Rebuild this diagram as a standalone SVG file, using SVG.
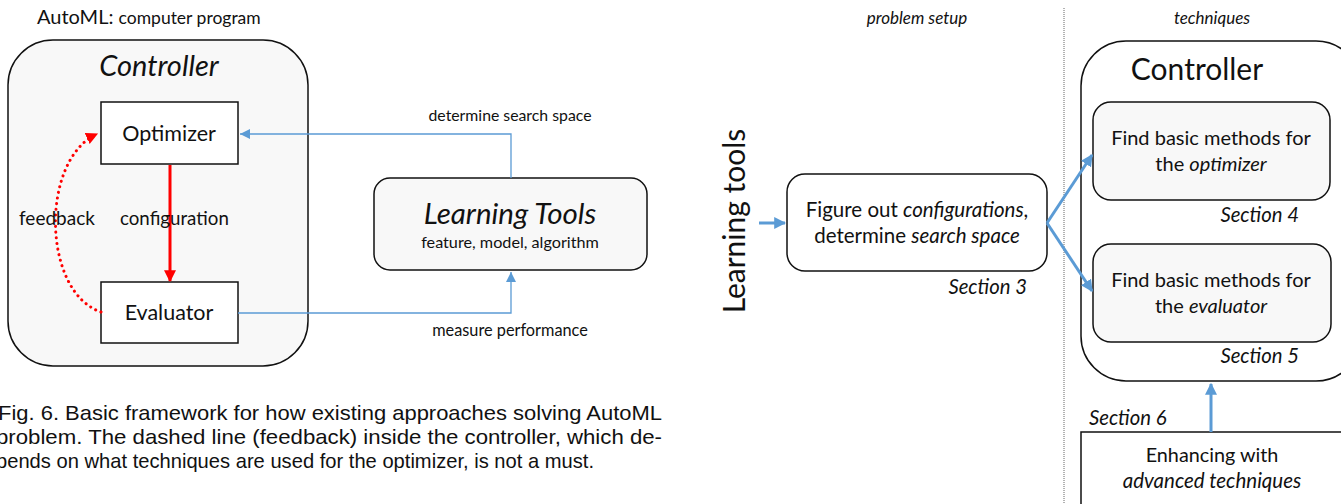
<svg xmlns="http://www.w3.org/2000/svg" width="1341" height="504" viewBox="0 0 1341 504">
<defs>
<style>
.t{font-family:Lato,"Open Sans","Liberation Sans",sans-serif;fill:#111;}
.i{font-style:italic;}
.m{text-anchor:middle;}
.e{text-anchor:end;}
.cap{font-family:"Liberation Sans",Arial,sans-serif;font-size:21px;fill:#111;}
.box{fill:#fff;stroke:#111;stroke-width:1.5;}
.gbox{fill:#f8f8f8;stroke:#111;stroke-width:1.5;}
.thin{fill:none;stroke:#5b9bd5;stroke-width:1.3;}
.thick{fill:none;stroke:#5b9bd5;stroke-width:3;}
</style>
<marker id="ab" viewBox="0 0 10 10" refX="10" refY="5" markerWidth="10" markerHeight="10" markerUnits="userSpaceOnUse" orient="auto"><path d="M0,0 L10,5 L0,10 z" fill="#5b9bd5"/></marker>
<marker id="abT" viewBox="0 0 10 10" refX="9" refY="5" markerWidth="4" markerHeight="4" orient="auto"><path d="M0,0 L10,5 L0,10 z" fill="#5b9bd5"/></marker>
<marker id="ar" viewBox="0 0 10 10" refX="9" refY="5" markerWidth="4" markerHeight="4" orient="auto"><path d="M0,0 L10,5 L0,10 z" fill="#ff0000"/></marker>
<marker id="arD" viewBox="0 0 10 10" refX="9" refY="5" markerWidth="12" markerHeight="12" markerUnits="userSpaceOnUse" orient="auto"><path d="M0,0 L10,5 L0,10 z" fill="#ff0000"/></marker>
</defs>

<!-- Left figure -->
<g id="title">
<text class="t" x="37" y="24" font-size="20">AutoML: <tspan font-size="17.5">computer program</tspan></text>
</g>
<g id="controller-left">
<rect class="gbox" x="8" y="40" width="300" height="326" rx="45"/>
<text class="t i m" x="159" y="76" font-size="29">Controller</text>
</g>
<g id="optimizer">
<rect class="box" x="101" y="102" width="137" height="62"/>
<text class="t m" x="169" y="141" font-size="21.5">Optimizer</text>
</g>
<g id="evaluator">
<rect class="box" x="101" y="282" width="137" height="61"/>
<text class="t m" x="169" y="320" font-size="21.5">Evaluator</text>
</g>
<g id="learning-tools">
<rect class="gbox" x="374" y="178" width="273" height="92" rx="16"/>
<text class="t i m" x="510" y="224" font-size="29.5">Learning Tools</text>
<text class="t m" x="510" y="248" font-size="16.2">feature, model, algorithm</text>
</g>

<g id="connectors-left">
<line x1="170" y1="165" x2="170" y2="281" stroke="#ff0000" stroke-width="3" marker-end="url(#ar)"/>
<path d="M101,312 C42,292 40,160 97,134" fill="none" stroke="#ff0000" stroke-width="3" stroke-dasharray="0.1 5.6" stroke-linecap="round" marker-end="url(#arD)"/>
<path class="thin" d="M511,178 L511,134 L240,134" marker-end="url(#ab)"/>
<path class="thin" d="M238,313 L511,313 L511,272" marker-end="url(#ab)"/>
<text class="t" x="120" y="225" font-size="18.7">configuration</text>
<text class="t" x="19" y="225" font-size="19">feedback</text>
<text class="t m" x="510" y="121" font-size="15.8">determine search space</text>
<text class="t m" x="510" y="336" font-size="16.3">measure performance</text>
</g>

<g id="caption">
<text class="cap" x="-2" y="420" textLength="664" lengthAdjust="spacingAndGlyphs">Fig. 6. Basic framework for how existing approaches solving AutoML</text>
<text class="cap" x="-4" y="444" textLength="666" lengthAdjust="spacingAndGlyphs">problem. The dashed line (feedback) inside the controller, which de-</text>
<text class="cap" x="-4" y="468" textLength="598" lengthAdjust="spacingAndGlyphs">pends on what techniques are used for the optimizer, is not a must.</text>
</g>

<!-- Right figure -->
<g id="headers">
<text class="t i m" x="917" y="24" font-size="17">problem setup</text>
<text class="t i m" x="1212" y="24" font-size="17">techniques</text>
<line x1="1064" y1="8" x2="1064" y2="504" stroke="#666" stroke-width="1" stroke-dasharray="1 1"/>
</g>
<g id="learning-tools-label">
<text class="t m" transform="translate(745,221) rotate(-90)" font-size="30">Learning tools</text>
</g>
<g id="figure-out">
<rect class="box" x="787" y="174" width="260" height="97" rx="18"/>
<text class="t m" x="917" y="217" font-size="20.5">Figure out <tspan class="i">configurations</tspan>,</text>
<text class="t m" x="917" y="243" font-size="20.5">determine <tspan class="i">search space</tspan></text>
<text class="t i e" x="1027" y="294" font-size="20.3">Section 3</text>
</g>
<g id="controller-right">
<rect class="box" x="1081" y="41" width="280" height="340" rx="45"/>
<text class="t m" x="1197" y="80" font-size="30">Controller</text>
</g>
<g id="opt-methods">
<rect class="gbox" x="1093" y="102" width="237" height="98" rx="18"/>
<text class="t m" x="1211" y="145" font-size="20">Find basic methods for</text>
<text class="t m" x="1211" y="171" font-size="20">the <tspan class="i">optimizer</tspan></text>
<text class="t i e" x="1299" y="222" font-size="20.3">Section 4</text>
</g>
<g id="eval-methods">
<rect class="gbox" x="1093" y="244" width="238" height="98" rx="18"/>
<text class="t m" x="1211" y="287" font-size="20">Find basic methods for</text>
<text class="t m" x="1211" y="313" font-size="20">the <tspan class="i">evaluator</tspan></text>
<text class="t i e" x="1299" y="363" font-size="20.3">Section 5</text>
</g>
<g id="enhancing">
<rect class="box" x="1081" y="432" width="280" height="90"/>
<text class="t m" x="1212" y="462" font-size="19.8">Enhancing with</text>
<text class="t i m" x="1212" y="488" font-size="20.5">advanced techniques</text>
<text class="t i" x="1089" y="425" font-size="20.3">Section 6</text>
</g>

<g id="connectors-right">
<line class="thick" x1="759" y1="223" x2="785" y2="223" marker-end="url(#abT)"/>
<line class="thick" x1="1047" y1="223" x2="1092" y2="155" marker-end="url(#abT)"/>
<line class="thick" x1="1047" y1="223" x2="1092" y2="291" marker-end="url(#abT)"/>
<line class="thick" x1="1211" y1="432" x2="1211" y2="384" marker-end="url(#abT)"/>
</g>
</svg>
